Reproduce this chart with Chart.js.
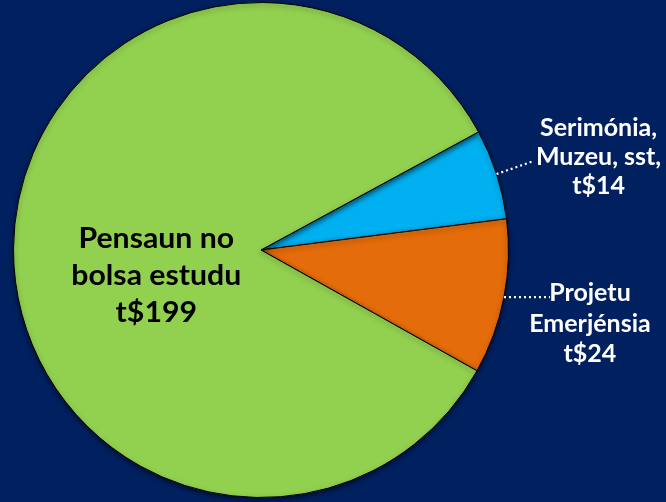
<!DOCTYPE html>
<html>
<head>
<meta charset="utf-8">
<script src="https://cdn.jsdelivr.net/npm/chart.js@4.4.0/dist/chart.umd.min.js"></script>
<style>
  html, body { margin: 0; padding: 0; background: #002060; }
  #wrap { width: 666px; height: 502px; position: relative; }
</style>
</head>
<body>
<div id="wrap"><canvas id="c" width="666" height="502"></canvas></div>
<script>
const categories = ['Serimónia, Muzeu, sst', 'Projetu Emerjénsia', 'Pensaun no bolsa estudu'];
const values = [14, 24, 199];
const labelLines = [
  ['Serimónia,', 'Muzeu, sst,', 't$14'],
  ['Projetu', 'Emerjénsia', 't$24'],
  ['Pensaun no', 'bolsa estudu', 't$199']
];
const colors = ['#00b0f0', '#e46c0a', '#92d050'];

const labelPlugin = {
  id: 'sliceLabels',
  afterDatasetsDraw(chart) {
    const ctx = chart.ctx;
    const meta = chart.getDatasetMeta(0);
    const cfg = [
      { leader: [37, -13], dx: 65, dy: 4, lh: 29, mid: 1, size: 25, sx: 1.0, color: '#ffffff' },
      { leader: [46, 0], dx: 40, dy: 4, lh: 30.5, mid: 0, size: 25, sx: 1.0, color: '#ffffff' },
      { inside: true, rf: 0.423, dy: 36, lh: 37, mid: 1, size: 28, sx: 1.08, color: '#000000' }
    ];
    meta.data.forEach((arc, i) => {
      const c = cfg[i];
      const mid = (arc.startAngle + arc.endAngle) / 2;
      const lines = labelLines[i];
      let cx, cy;
      ctx.save();
      if (c.inside) {
        cx = arc.x + Math.cos(mid) * arc.outerRadius * c.rf;
        cy = arc.y + Math.sin(mid) * arc.outerRadius * c.rf + c.dy;
      } else {
        const px = arc.x + Math.cos(mid) * arc.outerRadius;
        const py = arc.y + Math.sin(mid) * arc.outerRadius;
        const ex = px + c.leader[0], ey = py + c.leader[1];
        ctx.strokeStyle = '#ffffff';
        ctx.lineWidth = 2.2;
        ctx.setLineDash([2, 3]);
        ctx.beginPath();
        ctx.moveTo(px, py);
        ctx.lineTo(ex, ey);
        ctx.stroke();
        ctx.setLineDash([]);
        cx = ex + c.dx;
        cy = ey + c.dy;
      }
      ctx.font = 'bold ' + c.size + 'px Lato, "Liberation Sans", sans-serif';
      ctx.fillStyle = c.color;
      ctx.textAlign = 'center';
      ctx.textBaseline = 'alphabetic';
      lines.forEach((t, k) => {
        ctx.save();
        ctx.translate(cx, cy + (k - c.mid) * c.lh);
        ctx.scale(c.sx, 1);
        ctx.fillText(t, 0, 0);
        ctx.restore();
      });
      ctx.restore();
    });
  }
};

const shadowPlugin = {
  id: 'pieShadow',
  beforeDatasetsDraw(chart) {
    const ctx = chart.ctx;
    ctx.save();
    ctx.shadowColor = 'rgba(0,0,0,0.55)';
    ctx.shadowBlur = 5;
    ctx.shadowOffsetY = 2;
  },
  afterDatasetsDraw(chart) {
    chart.ctx.restore();
  }
};

new Chart(document.getElementById('c'), {
  type: 'pie',
  data: {
    labels: categories,
    datasets: [{
      data: values,
      backgroundColor: colors,
      borderColor: '#000000',
      borderWidth: 1
    }]
  },
  options: {
    responsive: false,
    animation: false,
    rotation: 61.5,
    layout: { padding: { left: 13, right: 157, top: 2, bottom: 4 } },
    plugins: {
      legend: { display: false },
      tooltip: { enabled: false }
    }
  },
  plugins: [shadowPlugin, labelPlugin]
});
</script>
</body>
</html>
